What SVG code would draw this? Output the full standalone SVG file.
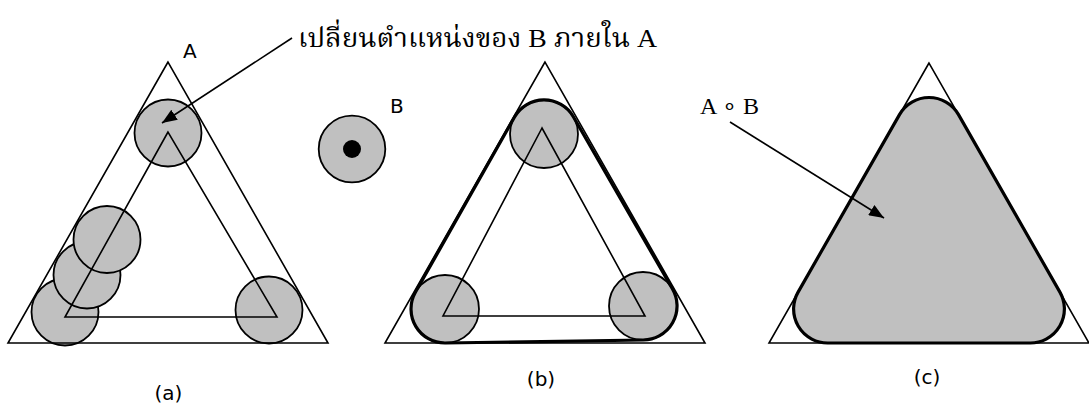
<svg xmlns="http://www.w3.org/2000/svg" width="1089" height="408" viewBox="0 0 1089 408">
<style>
.tri{fill:none;stroke:#000;stroke-width:1.6;stroke-linejoin:miter}
.disk{fill:#c0c0c0;stroke:#000;stroke-width:1.8}
.outline{fill:none;stroke:#000;stroke-width:3.2}
.shape{fill:#c0c0c0;stroke:#000;stroke-width:3.2}
.conn{fill:none;stroke:#000;stroke-width:1.6}
.sans{font-family:"DejaVu Sans","Liberation Sans",sans-serif;fill:#000}
.serif{font-family:"Liberation Serif","Noto Serif Thai","Noto Sans Thai",serif;fill:#000}
</style>
<defs>
<marker id="ah" markerUnits="userSpaceOnUse" markerWidth="16" markerHeight="12" refX="15" refY="6" orient="auto">
<path d="M0,0 L15,6 L0,12 Z" fill="#000"/>
</marker>
</defs>
<rect width="1089" height="408" fill="#fff"/>

<g id="panel-a">
<circle class="disk" cx="168" cy="133" r="33.5"/>
<circle class="disk" cx="65" cy="312" r="33.5"/>
<circle class="disk" cx="87" cy="275" r="33.5"/>
<circle class="disk" cx="107" cy="239.5" r="33.5"/>
<circle class="disk" cx="269" cy="310" r="33.5"/>
<polygon class="tri" points="168,62 8,343 328,343"/>
<polygon class="tri" points="168,132 65,317 277,317"/>
<text class="sans" x="183" y="58" font-size="20">A</text>
<text class="sans" x="168.5" y="400" font-size="20" text-anchor="middle">(a)</text>
</g>

<g id="structuring-element-b">
<circle class="disk" cx="352" cy="149" r="33.3"/>
<circle cx="352" cy="149" r="9" fill="#000"/>
<text class="sans" x="390" y="113" font-size="20">B</text>
</g>

<g id="panel-b">
<circle class="disk" cx="544" cy="134" r="34"/>
<circle class="disk" cx="445" cy="309" r="34"/>
<circle class="disk" cx="643" cy="306" r="34"/>
<polygon class="tri" points="545,62 385,343 705,343"/>
<polygon class="tri" points="542,128 443,316 645,316"/>
<path class="outline" d="M514.4,117.3 A34,34 0 0 1 573.5,117 L672.5,289 A34,34 0 0 1 643.5,340 L445.5,343 A34,34 0 0 1 415.4,292.3 Z"/>
<text class="sans" x="541" y="386" font-size="20" text-anchor="middle">(b)</text>
</g>

<g id="panel-c">
<path class="shape" d="M899.5,114.6 A34,34 0 0 1 958.5,114.6 L1059.9,292.1 A34,34 0 0 1 1030.4,343 L827.6,343 A34,34 0 0 1 798.1,292.1 Z"/>
<polygon class="tri" points="929,63 769,343 1089,343"/>
<text class="sans" x="927" y="384" font-size="20" text-anchor="middle">(c)</text>
</g>

<g id="label-translate">
<text class="serif" x="298" y="47" font-size="26" textLength="359" lengthAdjust="spacingAndGlyphs">เปลี่ยนตำแหน่งของ B ภายใน A</text>
</g>
<g id="label-opening">
<text class="serif" x="700" y="114" font-size="24">A ∘ B</text>
</g>

<g id="connectors">
<line class="conn" x1="292" y1="38" x2="162" y2="123" marker-end="url(#ah)"/>
<line class="conn" x1="730" y1="122" x2="884" y2="218" marker-end="url(#ah)"/>
</g>
</svg>
